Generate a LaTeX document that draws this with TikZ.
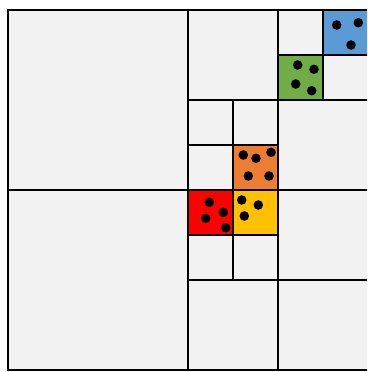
\documentclass[tikz,border=0pt]{standalone}
\usepackage{tikz}

\definecolor{qgray}{HTML}{F2F2F2}
\definecolor{qblue}{HTML}{5B9BD5}
\definecolor{qgreen}{HTML}{70AD47}
\definecolor{qorange}{HTML}{ED7D31}
\definecolor{qred}{HTML}{FF0000}
\definecolor{qyellow}{HTML}{FFC000}

\begin{document}
\begin{tikzpicture}[x=1pt, y=-1pt,
  grid/.style={draw, line width=2pt, line cap=rect},
  pt/.style={fill=black}]
\useasboundingbox (0,0) rectangle (367,372);
\clip (0,0) rectangle (367,372);

% ---- cells ---------------------------------------------------------------
\fill[qgray] (8,10) rectangle (369,370);
\fill[qblue] (323,10) rectangle (369,55);
\fill[qgreen] (278,55) rectangle (323,100);
\fill[qorange] (233,145) rectangle (278,190);
\fill[qred] (188,190) rectangle (233,235);
\fill[qyellow] (233,190) rectangle (278,235);

% ---- subdivision lines ---------------------------------------------------
\draw[grid] (8,10) rectangle (369.5,370);
\draw[grid] (188,10) -- (188,370) (8,190) -- (369,190);
\draw[grid] (278,10) -- (278,370) (188,100) -- (369,100) (188,280) -- (369,280);
\draw[grid] (323,10) -- (323,100) (278,55) -- (369,55);
\draw[grid] (233,100) -- (233,190) (188,145) -- (278,145);
\draw[grid] (233,190) -- (233,280) (188,235) -- (278,235);

% ---- points --------------------------------------------------------------
\foreach \p in {(336.7,25),(358.3,22.7),(351,45),
                (297.7,65),(314,69.3),(295.7,84),(311.7,90.7),
                (243.3,155),(256,158.3),(271,152.3),(248.3,176),(269,176),
                (209.3,202.3),(223.3,212.3),(205.7,218.3),(225.7,227.7),
                (241.7,200),(258.3,205),(244.3,216)}
  \fill[pt] \p circle (4.8pt);

\end{tikzpicture}
\end{document}
